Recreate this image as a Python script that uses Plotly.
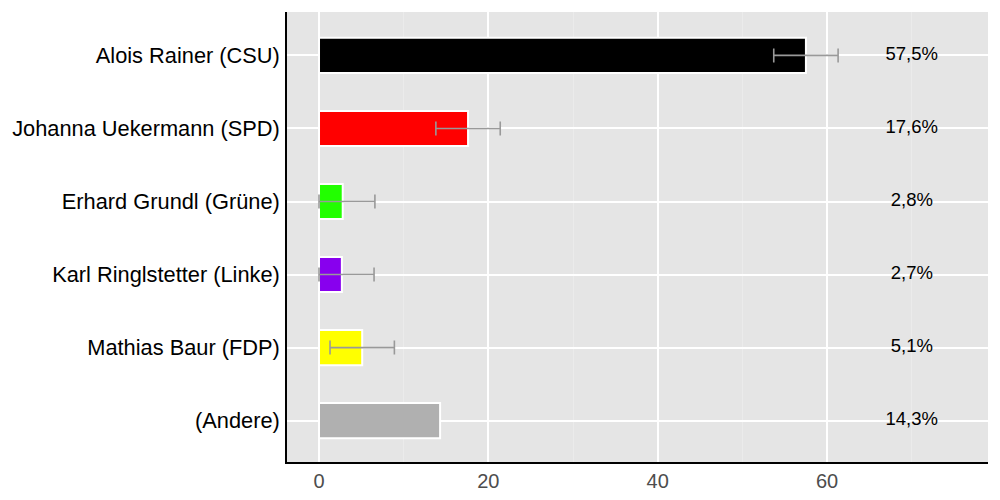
import plotly.graph_objects as go

# Kandidaten und Ergebnisse (Prozent)
candidates = [
    'Alois Rainer (CSU)',
    'Johanna Uekermann (SPD)',
    'Erhard Grundl (Grüne)',
    'Karl Ringlstetter (Linke)',
    'Mathias Baur (FDP)',
    '(Andere)',
]
share = [57.5, 17.6, 2.8, 2.7, 5.1, 14.3]
# Fehlerbalken nur fuer die ersten fuenf Kandidaten
err_plus = [3.8, 3.8, 3.8, 3.8, 3.8]
err_minus = [3.8, 3.8, 2.8, 2.7, 3.8]
colors = ['#000000', '#ff0000', '#22ff00', '#8800ee', '#ffff00', '#b0b0b0']
label_x = 70

n_err = len(err_plus)

fig = go.Figure()

fig.add_trace(go.Bar(
    y=candidates[:n_err],
    x=share[:n_err],
    orientation='h',
    width=0.48,
    marker=dict(color=colors[:n_err], line=dict(color='white', width=2)),
    error_x=dict(
        type='data',
        symmetric=False,
        array=err_plus,
        arrayminus=err_minus,
        color='#999999',
        thickness=1.6,
        width=7,
    ),
    showlegend=False,
    hoverinfo='skip',
))

fig.add_trace(go.Bar(
    y=candidates[n_err:],
    x=share[n_err:],
    orientation='h',
    width=0.48,
    marker=dict(color=colors[n_err:], line=dict(color='white', width=2)),
    showlegend=False,
    hoverinfo='skip',
))

# Prozentwerte rechts
fig.add_trace(go.Scatter(
    y=candidates,
    x=[label_x] * len(share),
    mode='text',
    text=[f'{v:.1f}%'.replace('.', ',') for v in share],
    textfont=dict(size=18.5, color='black'),
    textposition='middle center',
    showlegend=False,
    hoverinfo='skip',
))

# page body has an 8px margin, so margins are shifted to compensate
fig.update_layout(
    width=1000,
    height=500,
    barmode='overlay',
    margin=dict(l=279, r=20, t=4, b=46),
    paper_bgcolor='white',
    plot_bgcolor='#e5e5e5',
    font=dict(family='Liberation Sans, Arial, sans-serif', size=20, color='black'),
)

fig.update_xaxes(
    range=[-3.78, 79.0],
    tickvals=[0, 20, 40, 60],
    showgrid=True,
    gridcolor='white',
    gridwidth=1.5,
    minor=dict(dtick=10, showgrid=True, gridcolor='#ebebeb', gridwidth=1),
    zeroline=False,
    showline=True,
    linecolor='black',
    linewidth=1.5,
    ticks='',
    tickfont=dict(size=20, color='#4d4d4d'),
)
fig.update_yaxes(
    categoryorder='array',
    categoryarray=candidates,
    range=[5.566, -0.594],
    showgrid=True,
    gridcolor='white',
    gridwidth=1.5,
    showline=True,
    linecolor='black',
    linewidth=1.5,
    ticks='',
    ticklabelstandoff=1,
    tickfont=dict(size=21.8, color='black'),
)

fig.write_html('out.html')
